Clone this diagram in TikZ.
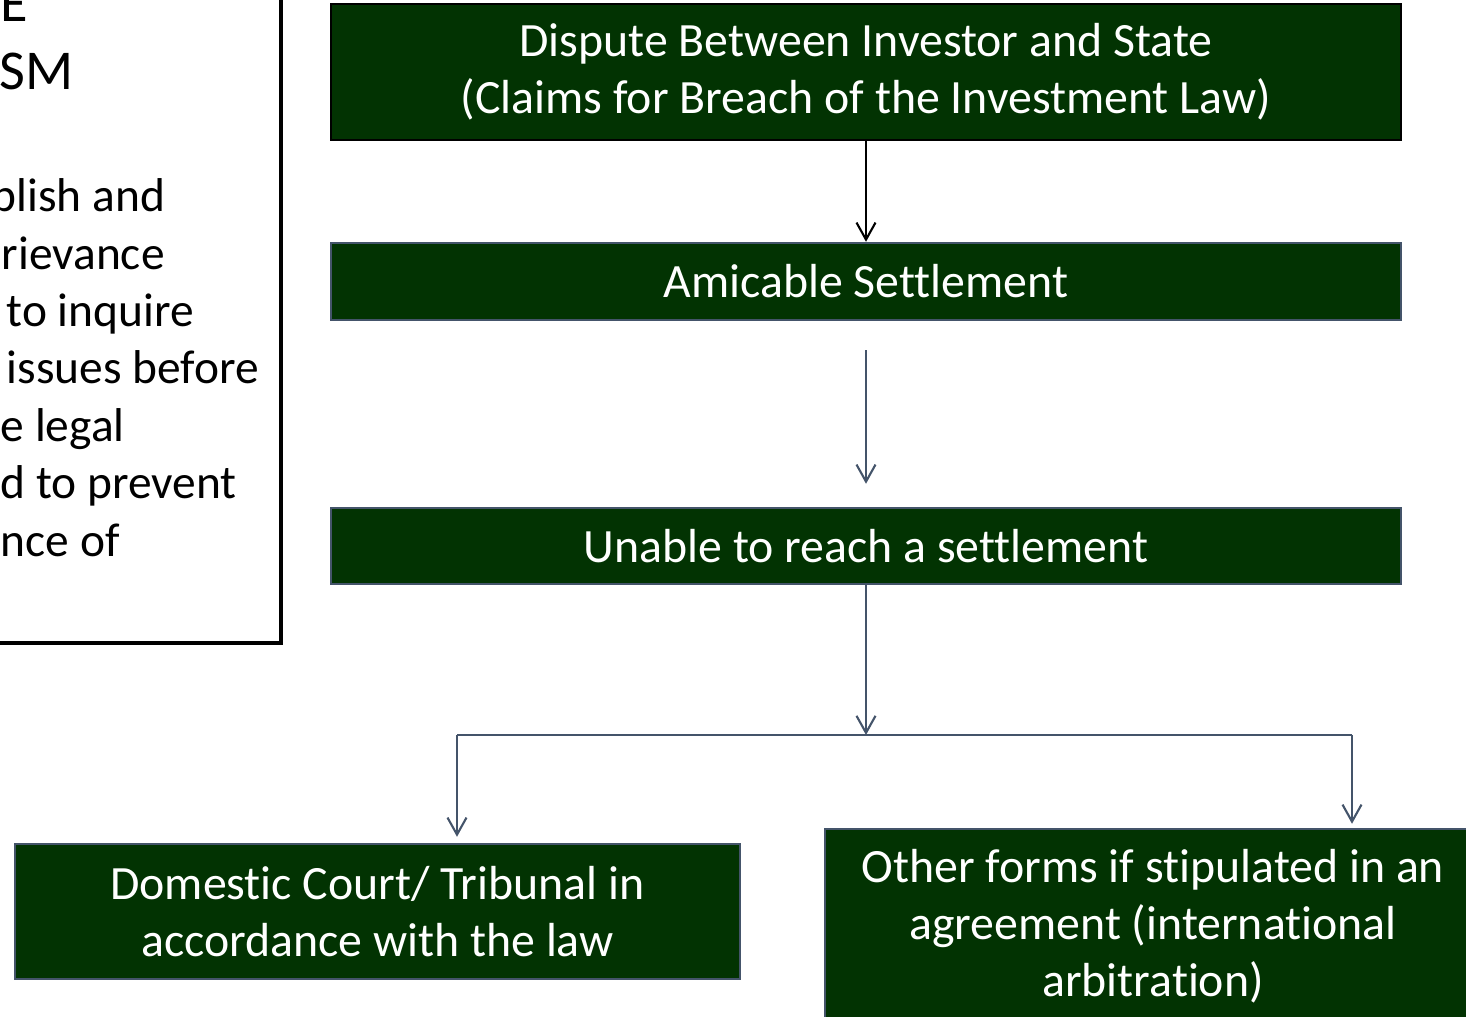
\documentclass[tikz,border=0pt]{standalone}
\usepackage{fontspec}
\setmainfont{Carlito}[Ligatures={NoCommon}]
\usetikzlibrary{arrows.meta}

\definecolor{boxgreen}{RGB}{2,51,2}
\definecolor{slate}{RGB}{68,84,106}

\tikzset{
	flowbox/.style={draw=slate,line width=0.7pt,fill=boxgreen,text=white,align=center,
		inner sep=0pt,font=\fontsize{13.6}{16.2}\selectfont},
	conn/.style={draw=slate,line width=0.6pt,-{Straight Barb[length=1.7mm,width=1.9mm]}},
	side/.style={anchor=base west,inner sep=0pt,font=\fontsize{13.5}{16.2}\selectfont},
	sidetitle/.style={anchor=base west,inner sep=0pt,font=\fontsize{16}{19.2}\selectfont}
}

\begin{document}
\begin{tikzpicture}
	\useasboundingbox (0,0) rectangle (14.66,-10.17);
	\clip (0,0) rectangle (14.66,-10.17);

	% side panel
	\draw [line width=0.9pt] (-0.2,0.2) rectangle (2.81,-6.43);
	\path
	(0,-0.22) node[sidetitle] (t1) {E}
	(-0.01,-0.90) node[sidetitle] (t2) {SM}
	(-0.09,-2.12) node[side] (s1) {blish and}
	(0.01,-2.695) node[side] (s2) {rievance}
	(0.06,-3.27) node[side] (s3) {to inquire}
	(0.06,-3.84) node[side] (s4) {issues before}
	(0,-4.42) node[side] (s5) {e legal}
	(0,-4.99) node[side] (s6) {d to prevent}
	(0,-5.57) node[side] (s7) {nce of}
	;

	% flow boxes
	\node [flowbox,draw=black,minimum width=10.70cm,minimum height=1.36cm] (dispute) at (8.66,-0.72)
		{\raisebox{-0.04cm}{Dispute Between Investor and State}\\\raisebox{-0.04cm}{(Claims for Breach of the Investment Law)}};
	\node [flowbox,minimum width=10.70cm,minimum height=0.77cm] (amicable) at (8.66,-2.815)
		{Amicable Settlement};
	\node [flowbox,minimum width=10.70cm,minimum height=0.76cm] (unable) at (8.66,-5.46)
		{Unable to reach a settlement};
	\node [flowbox,minimum width=7.25cm,minimum height=1.35cm] (domestic) at (3.775,-9.115)
		{Domestic Court/ Tribunal in\\accordance with the law};
	\node [flowbox,minimum width=6.56cm,minimum height=1.94cm] (other) at (11.53,-9.26)
		{\raisebox{-0.03cm}{Other forms if stipulated in an}\\\raisebox{-0.03cm}{agreement (international}\\\raisebox{-0.03cm}{arbitration)}};

	\coordinate (split) at (8.66,-7.35);
	\coordinate (left) at (4.57,-7.35);
	\coordinate (right) at (13.52,-7.35);

	% connectors
	\draw [conn,draw=black] (dispute) -- (amicable);
	\draw [conn,shorten <=0.29cm,shorten >=0.23cm] (amicable) -- (unable);
	\draw [conn] (unable) -- (split);
	\draw [slate,line width=0.6pt] (left) -- (right);
	\draw [conn,shorten >=0.06cm] (left) -- (left |- domestic.north);
	\draw [conn,shorten >=0.04cm] (right) -- (right |- other.north);
\end{tikzpicture}
\end{document}
